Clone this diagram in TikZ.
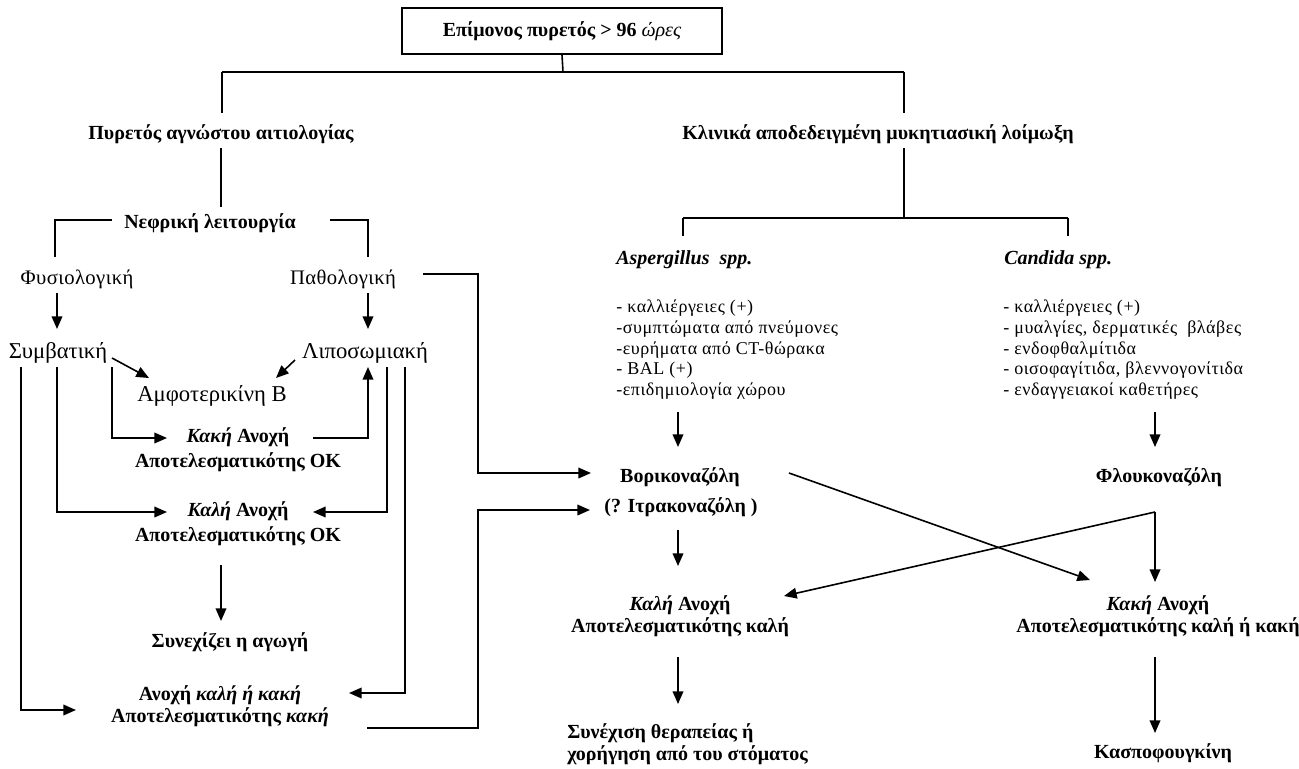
\documentclass[tikz,border=0pt]{standalone}
\usepackage{fontspec}
\setmainfont{Liberation Serif}
\usetikzlibrary{arrows.meta}
\begin{document}
\begin{tikzpicture}[x=0.75pt,y=-0.75pt,
  ln/.style={line width=1.2pt, black},
  arr/.style={ln, -{Triangle[length=9.5pt,width=8pt]}},
  bt/.style={font=\fontsize{15}{18.75}\selectfont\bfseries, align=center, inner sep=0pt},
  bt2/.style={font=\fontsize{15}{16.5}\selectfont\bfseries, align=center, inner sep=0pt},
  rt/.style={font=\fontsize{15.5}{17}\selectfont\addfontfeature{LetterSpace=2}, inner sep=0pt},
  big/.style={font=\fontsize{17}{20}\selectfont, inner sep=0pt},
  it/.style={font=\fontsize{15}{16}\selectfont\bfseries\itshape, inner sep=0pt, anchor=west},
  lst/.style={font=\fontsize{13.5}{15.4}\selectfont\addfontfeature{LetterSpace=3}, align=left, inner sep=0pt, anchor=north west},
]
\useasboundingbox (0,0) rectangle (1299,768);

% top
\node[draw, line width=1.4pt, minimum width=240pt, minimum height=34.5pt, bt] (top) at (562,31) {Επίμονος πυρετός > 96 {\mdseries\itshape ώρες}};
\coordinate (j0) at (563,72);
\coordinate (jl) at (222,72);
\coordinate (jr) at (904,72);
\coordinate (jlb) at (222,113);
\coordinate (jrb) at (904,113);
\draw[ln] (top.south) -- (j0);
\draw[ln] (jl) -- (jr);
\draw[ln] (jl) -- (jlb);
\draw[ln] (jr) -- (jrb);

\node[bt] (pyr) at (221,134) {Πυρετός αγνώστου αιτιολογίας};
\node[bt] (klin) at (878,134) {Κλινικά αποδεδειγμένη μυκητιασική λοίμωξη};

% left branch
\coordinate (p1) at (221,148);
\coordinate (p2) at (221,207);
\draw[ln] (p1) -- (p2);
\node[bt] (nefr) at (210,223) {Νεφρική λειτουργία};
\coordinate (bl1) at (112,220); \coordinate (bl2) at (55,220); \coordinate (bl3) at (55,257);
\coordinate (br1) at (330,220); \coordinate (br2) at (368,220); \coordinate (br3) at (368,257);
\draw[ln] (bl1) -- (bl2) -- (bl3);
\draw[ln] (br1) -- (br2) -- (br3);

\node[rt] (fys) at (77,279) {Φυσιολογική};
\node[rt] (path) at (343,279) {Παθολογική};
\coordinate (f1) at (57,293); \coordinate (f2) at (57,329);
\coordinate (q1) at (368,293); \coordinate (q2) at (368,329);
\draw[arr] (f1) -- (f2);
\draw[arr] (q1) -- (q2);

\node[big] (symv) at (58,353) {Συμβατική};
\node[big] (lipo) at (365,353) {Λιποσωμιακή};
\node[big] (amfo) at (212,396) {Αμφοτερικίνη Β};
\coordinate (s1) at (112,358); \coordinate (s2) at (149,378);
\coordinate (l1) at (295,360); \coordinate (l2) at (276,378);
\draw[arr] (s1) -- (s2);
\draw[arr] (l1) -- (l2);

\node[bt] (kak1) at (238,450) {{\itshape Κακή} Ανοχή\\Αποτελεσματικότης ΟΚ};
\node[bt] (kal1) at (238,524) {{\itshape Καλή} Ανοχή\\Αποτελεσματικότης ΟΚ};

\coordinate (a1) at (112,367); \coordinate (a2) at (112,438); \coordinate (a3) at (167,438);
\draw[arr] (a1) -- (a2) -- (a3);
\coordinate (b1) at (313,438); \coordinate (b2) at (368,438); \coordinate (b3) at (368,367);
\draw[arr] (b1) -- (b2) -- (b3);
\coordinate (c1) at (57,367); \coordinate (c2) at (57,512); \coordinate (c3) at (167,512);
\draw[arr] (c1) -- (c2) -- (c3);
\coordinate (d1) at (387,367); \coordinate (d2) at (387,512); \coordinate (d3) at (313,512);
\draw[arr] (d1) -- (d2) -- (d3);

\coordinate (e1) at (221,565); \coordinate (e2) at (221,621);
\draw[arr] (e1) -- (e2);
\node[bt] (syn) at (230,642) {Συνεχίζει η αγωγή};
\node[bt2] (anox) at (220,706) {Ανοχή {\itshape καλή ή κακή}\\Αποτελεσματικότης {\itshape κακή}};

\coordinate (g1) at (405,367); \coordinate (g2) at (405,693); \coordinate (g3) at (349,693);
\draw[arr] (g1) -- (g2) -- (g3);
\coordinate (h1) at (21,367); \coordinate (h2) at (21,710); \coordinate (h3) at (76,710);
\draw[arr] (h1) -- (h2) -- (h3);

% links to right side
\coordinate (m1) at (423,274); \coordinate (m2) at (478,274); \coordinate (m3) at (478,473); \coordinate (m4) at (591,473);
\draw[arr] (m1) -- (m2) -- (m3) -- (m4);
\coordinate (n1) at (367,728); \coordinate (n2) at (478,728); \coordinate (n3) at (478,510); \coordinate (n4) at (590,510);
\draw[arr] (n1) -- (n2) -- (n3) -- (n4);

% right branch
\coordinate (r1) at (904,148); \coordinate (r2) at (904,218);
\coordinate (r3) at (683,218); \coordinate (r4) at (1068,218);
\coordinate (r5) at (683,236); \coordinate (r6) at (1068,236);
\draw[ln] (r1) -- (r2);
\draw[ln] (r3) -- (r4);
\draw[ln] (r3) -- (r5);
\draw[ln] (r4) -- (r6);

\node[it] (asp) at (616,260) {Aspergillus\ \ spp.};
\node[it] (cand) at (1004,260) {Candida spp.};

\node[lst] (asplist) at (616,300) {- καλλιέργειες (+)\\-συμπτώματα από πνεύμονες\\-ευρήματα από CT-θώρακα\\- BAL (+)\\-επιδημιολογία χώρου};
\node[lst] (candlist) at (1003,300) {- καλλιέργειες (+)\\- μυαλγίες, δερματικές\ \ βλάβες\\- ενδοφθαλμίτιδα\\- οισοφαγίτιδα, βλεννογονίτιδα\\- ενδαγγειακοί καθετήρες};

\coordinate (t1) at (678,412); \coordinate (t2) at (678,447);
\coordinate (u1) at (1155,412); \coordinate (u2) at (1155,447);
\draw[arr] (t1) -- (t2);
\draw[arr] (u1) -- (u2);

\node[bt] (vori) at (680,477) {Βορικοναζόλη};
\node[bt] (itra) at (681,507) {(? Ιτρακοναζόλη )};
\node[bt] (flu) at (1159,477) {Φλουκοναζόλη};

\coordinate (v1) at (678,530); \coordinate (v2) at (678,566);
\draw[arr] (v1) -- (v2);

\node[bt2] (kal2) at (680,616) {{\itshape Καλή} Ανοχή\\Αποτελεσματικότης καλή};
\node[bt2] (kak2) at (1158,616) {{\itshape Κακή} Ανοχή\\Αποτελεσματικότης καλή ή κακή};

\coordinate (x1) at (789,473); \coordinate (x2) at (1090,580);
\draw[arr] (x1) -- (x2);
\coordinate (y1) at (1155,512); \coordinate (y2) at (1155,582); \coordinate (y3) at (784,596);
\draw[arr] (y1) -- (y2);
\draw[arr] (y1) -- (y3);

\coordinate (w1) at (678,657); \coordinate (w2) at (678,704);
\coordinate (z1) at (1155,657); \coordinate (z2) at (1155,733);
\draw[arr] (w1) -- (w2);
\draw[arr] (z1) -- (z2);

\node[bt2, align=left, anchor=west] (cont) at (567,744) {Συνέχιση θεραπείας ή\\χορήγηση από του στόματος};
\node[bt] (kasp) at (1163,753) {Κασποφουγκίνη};
\end{tikzpicture}
\end{document}
